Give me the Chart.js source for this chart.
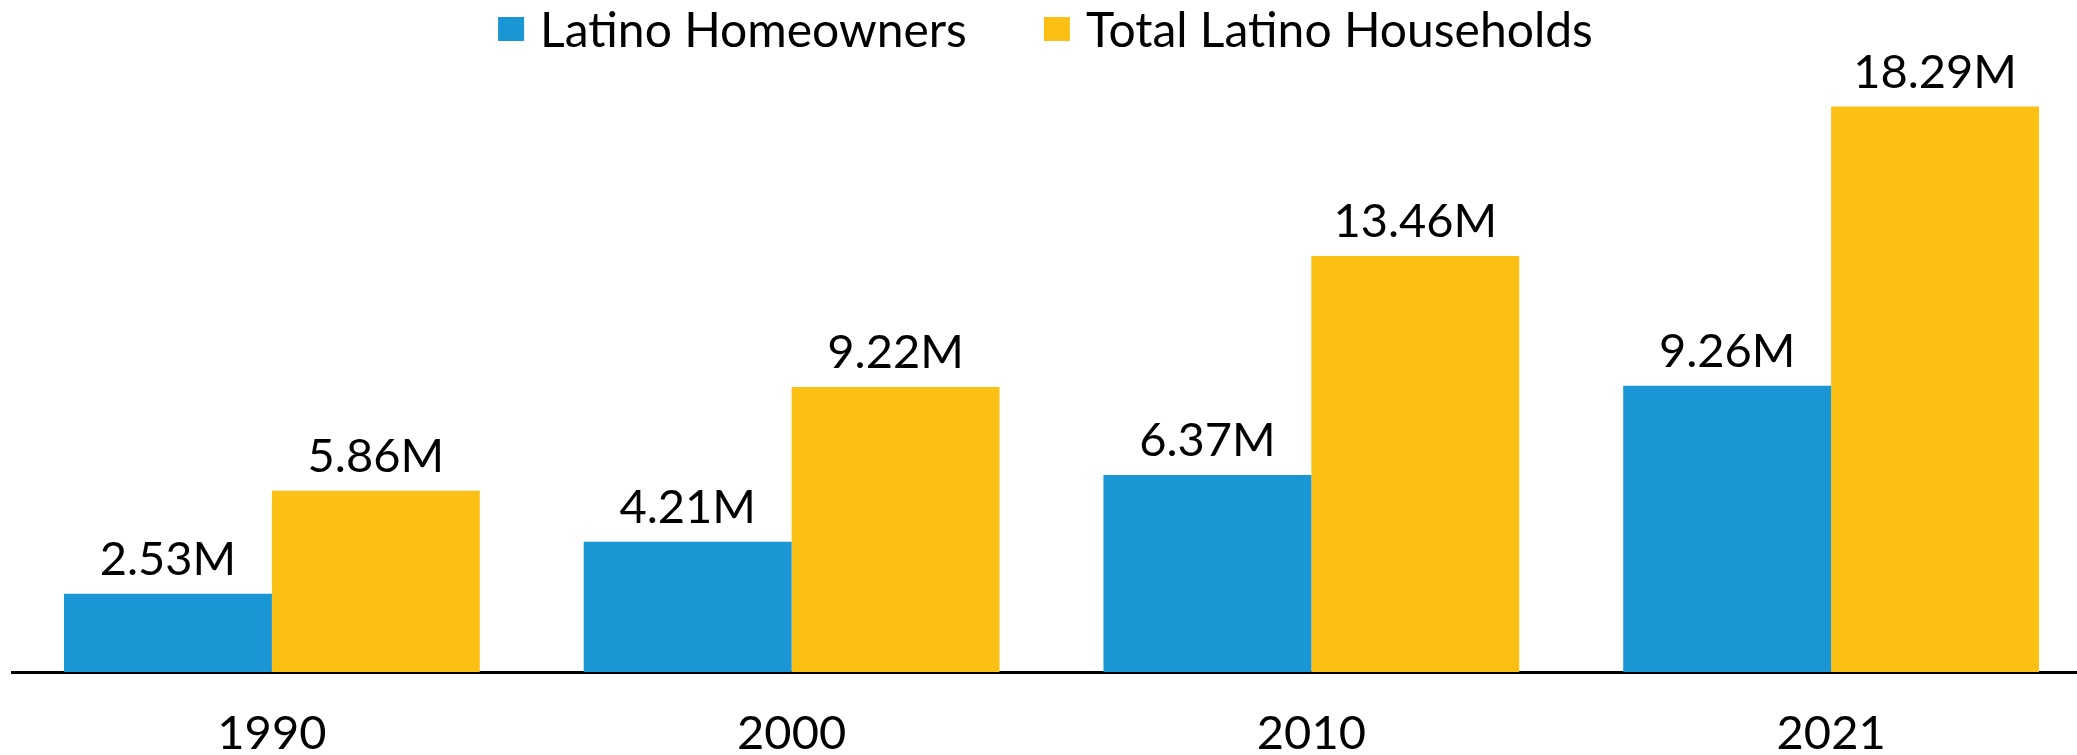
<!DOCTYPE html>
<html>
<head>
<meta charset="utf-8">
<script src="https://cdn.jsdelivr.net/npm/chart.js@4/dist/chart.umd.min.js"></script>
<style>
  html, body { margin: 0; padding: 0; background: #fff; overflow: hidden; }
  #wrap { position: relative; width: 2091px; height: 755px; }
</style>
</head>
<body>
<div id="wrap"><canvas id="c"></canvas></div>
<script>
const categories = ['1990', '2000', '2010', '2021'];
const homeowners = [2.53, 4.21, 6.37, 9.26];
const households = [5.86, 9.22, 13.46, 18.29];
const seriesNames = ['Latino Homeowners', 'Total Latino Households'];

const FONT = 'Lato, "Open Sans", sans-serif';

const valueLabels = {
  id: 'valueLabels',
  afterDatasetsDraw(chart) {
    const ctx = chart.ctx;
    ctx.save();
    ctx.font = '47px ' + FONT;
    ctx.fillStyle = '#000';
    ctx.textAlign = 'center';
    ctx.textBaseline = 'alphabetic';
    chart.data.datasets.forEach((ds, i) => {
      const meta = chart.getDatasetMeta(i);
      meta.data.forEach((el, j) => {
        ctx.fillText(ds.data[j].toFixed(2) + 'M', el.x, el.y - 19);
      });
    });
    ctx.restore();
  }
};

const topLegend = {
  id: 'topLegend',
  afterDraw(chart) {
    const ctx = chart.ctx;
    ctx.save();
    ctx.font = '48px ' + FONT;
    ctx.textBaseline = 'alphabetic';
    ctx.textAlign = 'left';
    const box = 26, gap = 16, itemGap = 77;
    const items = chart.data.datasets.map(ds => ({ text: ds.label, color: ds.backgroundColor, w: ctx.measureText(ds.label).width }));
    const total = items.reduce((s, it) => s + box + gap + it.w, 0) + itemGap * (items.length - 1);
    let x = chart.width / 2 - total / 2;
    items.forEach(it => {
      ctx.fillStyle = it.color;
      ctx.fillRect(x, 17, box, 24);
      ctx.fillStyle = '#000';
      ctx.fillText(it.text, x + box + gap, 47);
      x += box + gap + it.w + itemGap;
    });
    ctx.restore();
  }
};

new Chart(document.getElementById('c'), {
  type: 'bar',
  data: {
    labels: categories,
    datasets: [
      { label: seriesNames[0], data: homeowners, backgroundColor: '#1996D3', categoryPercentage: 0.8, barPercentage: 1.0 },
      { label: seriesNames[1], data: households, backgroundColor: '#FCBF13', categoryPercentage: 0.8, barPercentage: 1.0 }
    ]
  },
  options: {
    responsive: true,
    maintainAspectRatio: false,
    animation: false,
    devicePixelRatio: 1,
    layout: { padding: { left: 12, right: 0, top: 80, bottom: 0 } },
    plugins: {
      legend: { display: false },
      tooltip: { enabled: false }
    },
    scales: {
      x: {
        grid: { display: false, drawTicks: false },
        border: { display: true, color: '#000', width: 3 },
        ticks: { color: '#000', padding: 34, font: { family: FONT, size: 47 } },
        afterFit(scale) { scale.height = 83; }
      },
      y: {
        display: false,
        min: 0,
        max: 19.15
      }
    }
  },
  plugins: [valueLabels, topLegend]
});
</script>
</body>
</html>
